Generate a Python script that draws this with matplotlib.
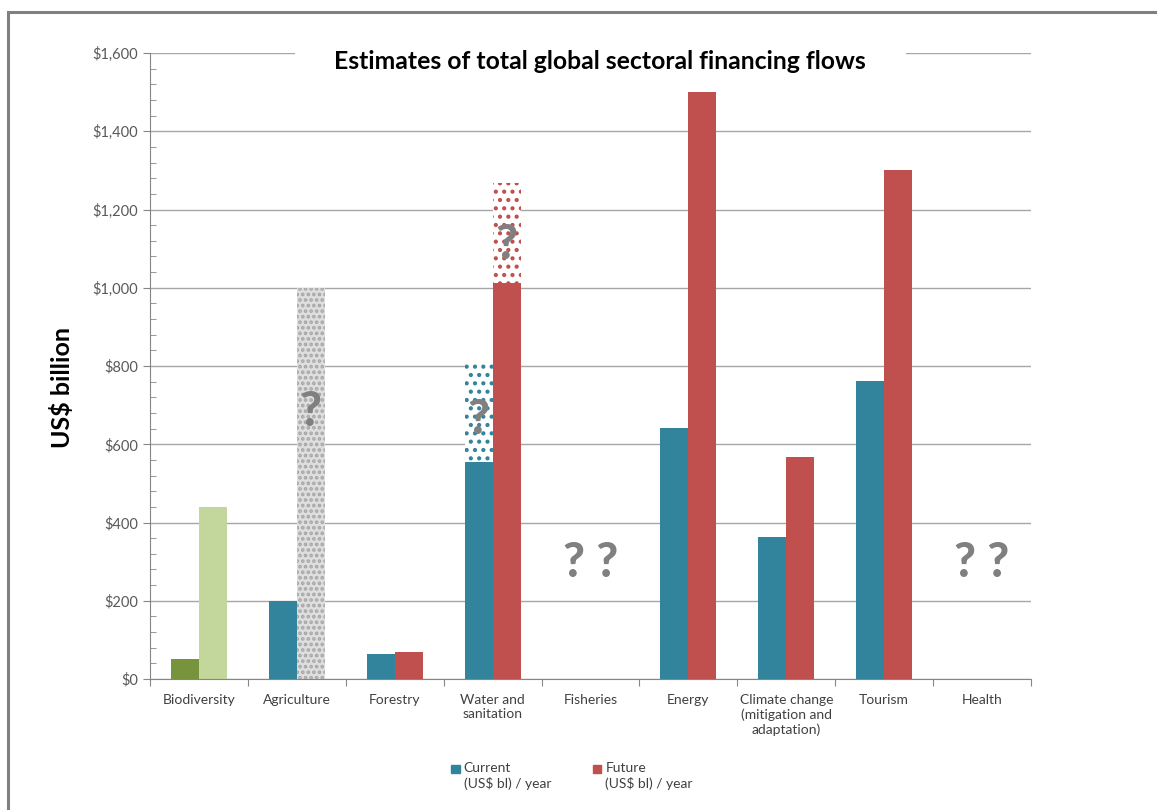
import numpy as np
import matplotlib
matplotlib.use("Agg")
import matplotlib.pyplot as plt
from matplotlib.patches import Patch, Rectangle
from matplotlib.legend_handler import HandlerPatch

plt.rcParams['font.family'] = ['Lato', 'DejaVu Sans']
plt.rcParams['hatch.linewidth'] = 1.8

# data (US$ billion per year)
categories = ["Biodiversity", "Agriculture", "Forestry", "Water and\nsanitation", "Fisheries",
              "Energy", "Climate change\n(mitigation and\nadaptation)", "Tourism", "Health"]
current = [51, 200, 63, 555, np.nan, 642, 363, 762, np.nan]
future = [440, np.nan, 69, 1013, np.nan, 1500, 568, 1300, np.nan]
# uncertain upper ranges (hatched, marked with "?")
current_high = [np.nan, np.nan, np.nan, 813, np.nan, np.nan, np.nan, np.nan, np.nan]
future_high = [np.nan, 1000, np.nan, 1268, np.nan, np.nan, np.nan, np.nan, np.nan]
# where the "?" marks sit
q_current = [np.nan, np.nan, np.nan, 662, np.nan, np.nan, np.nan, np.nan, np.nan]
q_future = [np.nan, 682, np.nan, 1109, np.nan, np.nan, np.nan, np.nan, np.nan]
unknown = ["Fisheries", "Health"]
unknown_y = 296

teal = "#31849B"
red = "#C0504D"
cur_colors = ["#77933C"] + [teal] * 8
fut_colors = ["#C3D69B"] + [red] * 8

fig = plt.figure(figsize=(11.57, 8.10), dpi=100)
ax = fig.add_axes([0.1296, 0.1617, 0.7615, 0.7728])

x = np.arange(len(categories))
w = 0.286

ax.bar(x - w / 2, current, w, color=cur_colors, zorder=2)
ax.bar(x + w / 2, future, w, color=fut_colors, zorder=2)

# hatched uncertain parts
cur_base = np.nan_to_num(current)
fut_base = np.nan_to_num(future)
ch = np.array(current_high) - cur_base
fh = np.array(future_high) - fut_base
ax.bar(x - w / 2, ch, w, bottom=cur_base, color="white", edgecolor=teal,
       hatch="..", linewidth=0, zorder=2)
for i in range(len(x)):
    if np.isnan(fh[i]):
        continue
    if np.isnan(future[i]):
        ax.bar(x[i] + w / 2, fh[i], w, bottom=fut_base[i], color="#DEDEDE",
               edgecolor="#A6A6A6", hatch="...", linewidth=0, zorder=2)
    else:
        ax.bar(x[i] + w / 2, fh[i], w, bottom=fut_base[i], color="white",
               edgecolor=red, hatch="..", linewidth=0, zorder=2)

qkw = dict(fontsize=34, fontweight="black", color="#808080", ha="center", va="center", zorder=3)
for i in range(len(x)):
    if not np.isnan(q_current[i]):
        ax.text(x[i] - w / 2, q_current[i], "?", **qkw)
    if not np.isnan(q_future[i]):
        ax.text(x[i] + w / 2, q_future[i], "?", **qkw)
for name in unknown:
    ax.text(categories.index(name), unknown_y, "? ?", **qkw)

ax.set_xlim(-0.5, len(categories) - 0.5)
ax.set_ylim(0, 1600)
ax.set_xticks(np.arange(len(categories) + 1) - 0.5)
ax.set_xticklabels([])
ax.set_xticks(x, minor=True)
ax.set_xticklabels(categories, minor=True, fontsize=10, color="#404040")
ax.tick_params(axis="x", which="major", length=5, color="#868686", direction="out")
ax.tick_params(axis="x", which="minor", length=0, pad=11)

ax.set_yticks(np.arange(0, 1601, 200))
ax.set_yticks(np.arange(0, 1601, 40), minor=True)
ax.set_yticklabels(["${:,.0f}".format(v) for v in np.arange(0, 1601, 200)], fontsize=10.5, color="#595959")
ax.tick_params(axis="y", which="major", length=5, color="#868686", direction="out")
ax.tick_params(axis="y", which="minor", length=4, color="#868686", direction="in")
ax.yaxis.grid(True, color="#A6A6A6", linewidth=1, zorder=0)
ax.set_axisbelow(True)

for s in ["top", "right"]:
    ax.spines[s].set_visible(False)
for s in ["left", "bottom"]:
    ax.spines[s].set_color("#868686")

# title box hides the top gridline but stays behind the bars
ax.text(0.5112, 0.987, "Estimates of total global sectoral financing flows", transform=ax.transAxes,
        ha="center", va="center", fontsize=17.8, fontweight="bold", color="black", zorder=1.5,
        bbox=dict(facecolor="white", edgecolor="none", boxstyle="square,pad=1.6"))
fig.text(62 / 1157, 1 - 387 / 810, "US$ billion", rotation=90, ha="center", va="center",
         fontsize=18, fontweight="bold")


def top_square(legend, orig_handle, xdescent, ydescent, width, height, fontsize):
    s = 0.6 * fontsize
    return Rectangle((-xdescent, -ydescent + height - s), width, s)


handles = [Patch(color=teal), Patch(color=red)]
fig.legend(handles, ["Current\n(US$ bl) / year", "Future\n(US$ bl) / year"], loc="center",
           bbox_to_anchor=(572 / 1157, 1 - 776 / 810), ncol=2, frameon=False, fontsize=10,
           labelcolor="#404040", handlelength=0.6, handleheight=2.3, handletextpad=0.3,
           columnspacing=3.0, handler_map={Patch: HandlerPatch(patch_func=top_square)})

fig.add_artist(Rectangle((8 / 1157, -0.2), 1.5, 1.2 - 12 / 810, transform=fig.transFigure,
                         fill=False, edgecolor="#808080", linewidth=2.2, zorder=10))

fig.savefig("out.png", dpi=100)
